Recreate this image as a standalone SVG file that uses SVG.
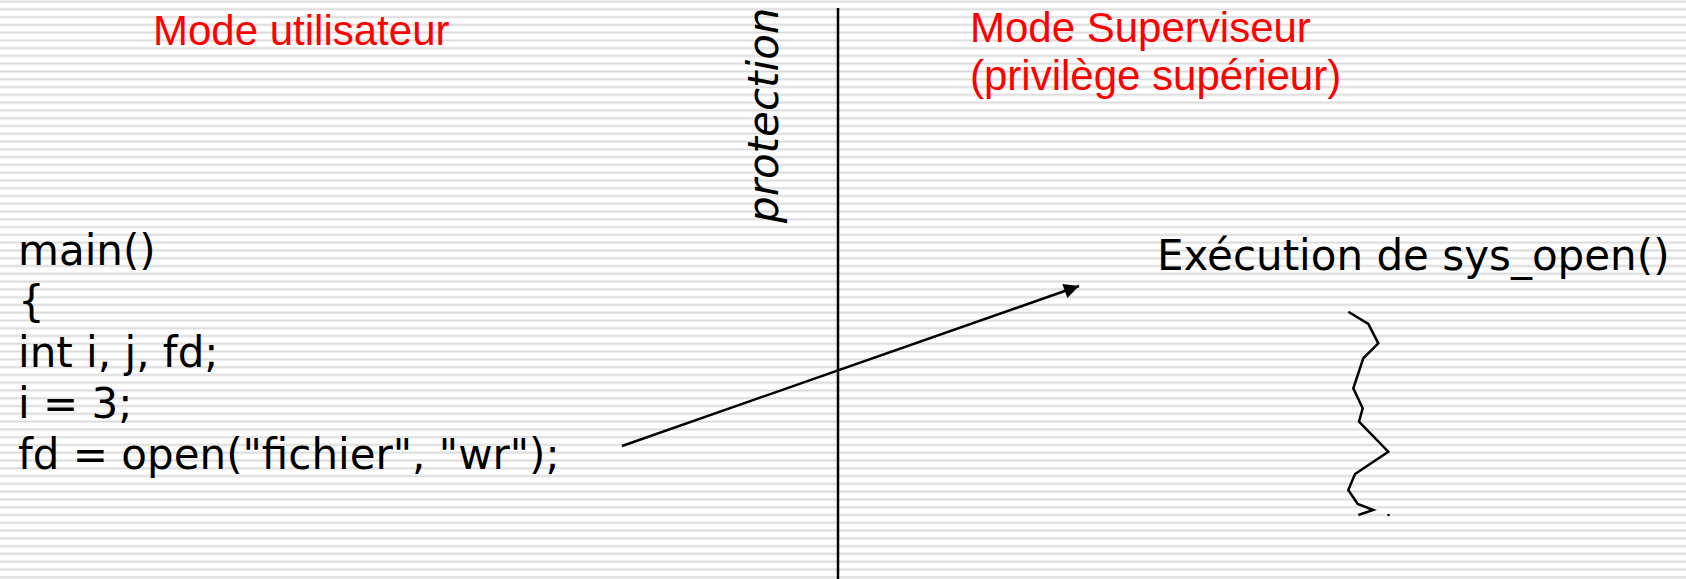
<svg xmlns="http://www.w3.org/2000/svg" width="1686" height="579" viewBox="0 0 1686 579">
  <style>
    .red { font-family: "Liberation Sans", Arial, sans-serif; font-size: 42px; fill: #ff0000; }
    .code { font-family: "DejaVu Sans", sans-serif; font-size: 42px; fill: #000000; }
    .prot { font-family: "DejaVu Sans", sans-serif; font-size: 42px; font-style: italic; fill: #000000; }
    .ln { stroke: #000000; stroke-width: 2.5; fill: none; }
  </style>
  <defs>
    <pattern id="stripes" patternUnits="userSpaceOnUse" x="0" y="0" width="20" height="7.78">
      <rect x="0" y="0" width="20" height="7.78" fill="#ffffff"/>
      <rect x="0" y="0" width="20" height="1" fill="#ececec"/>
      <rect x="0" y="1" width="20" height="1" fill="#d8d8d8"/>
      <rect x="0" y="2" width="20" height="1" fill="#ececec"/>
    </pattern>
    <marker id="arrow" viewBox="0 0 10 10" refX="10" refY="5" markerWidth="7" markerHeight="6" markerUnits="strokeWidth" orient="auto">
      <path d="M0,0 L10,5 L0,10 z" fill="#000000"/>
    </marker>
  </defs>
  <rect x="0" y="0" width="1686" height="579" fill="url(#stripes)"/>

  <g id="mode-utilisateur">
    <text class="red" x="153" y="45">Mode utilisateur</text>
  </g>
  <g id="mode-superviseur">
    <text class="red" x="970" y="42">Mode Superviseur</text>
    <text class="red" x="970" y="90">(privilège supérieur)</text>
  </g>
  <g id="protection">
    <line class="ln" x1="838" y1="8" x2="838" y2="579"/>
    <text class="prot" transform="translate(778,223) rotate(-90)" x="0" y="0">protection</text>
  </g>
  <g id="code">
    <text class="code" x="18" y="265">main()</text>
    <text class="code" x="18" y="316">{</text>
    <text class="code" x="18" y="367">int i, j, fd;</text>
    <text class="code" x="18" y="418">i = 3;</text>
    <text class="code" x="18" y="469">fd = open("fichier", "wr");</text>
  </g>
  <g id="execution">
    <text class="code" x="1157" y="270">Exécution de sys_open()</text>
    <polyline class="ln" points="1348.3,311.7 1368.3,324 1378.3,343.3 1363.3,358.3 1353.3,388.3 1362.7,408.3 1359,421.7 1388.3,451.7 1355,474 1348.3,490 1357.7,504 1373.3,510 1358.3,515"/>
    <circle cx="1388.5" cy="515" r="1.3" fill="#000000"/>
  </g>
  <g id="connectors">
    <line class="ln" x1="622" y1="446" x2="1079" y2="286" marker-end="url(#arrow)"/>
  </g>
</svg>
